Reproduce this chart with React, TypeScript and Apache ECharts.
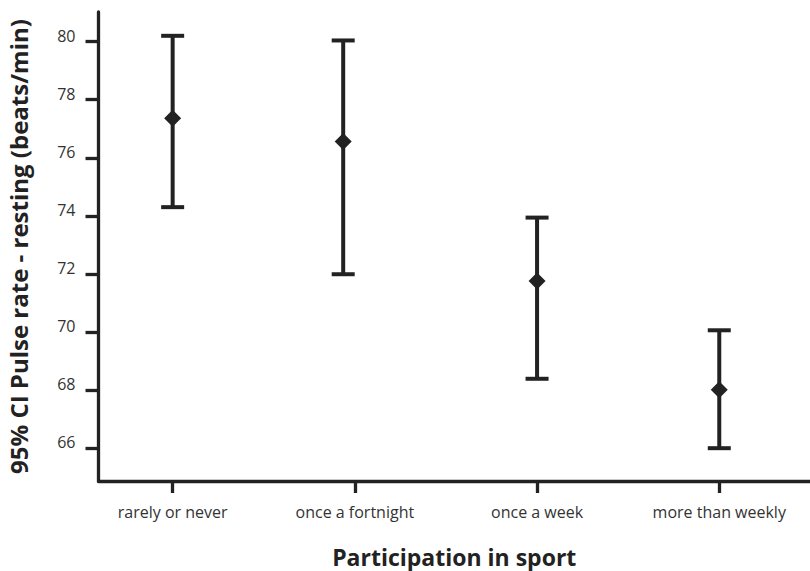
import React, { useEffect, useRef } from "react";
import * as echarts from "echarts";

const categories = ["rarely or never", "once a fortnight", "once a week", "more than weekly"];
const categoryTicks = [1, 2, 3, 4];
const pointPositions = [1, 1.936, 3, 4];
const means = [77.36, 76.56, 71.76, 68.01];
const lowerCI = [74.3, 71.99, 68.39, 66.0];
const upperCI = [80.2, 80.04, 73.94, 70.06];
const yTicks = [66, 68, 70, 72, 74, 76, 78, 80];

const xTitle = "Participation in sport";
const yTitle = "95% CI Pulse rate - resting (beats/min)";

const FONT = "'Open Sans', 'Noto Sans', sans-serif";
const INK = "#222222";

export default function App() {
  const ref = useRef<HTMLDivElement>(null);

  useEffect(() => {
    if (!ref.current) return;
    const chart = echarts.init(ref.current, undefined, { renderer: "svg" });

    const barData = pointPositions.map((x, i) => [x, lowerCI[i], upperCI[i]]);
    const meanData = pointPositions.map((x, i) => [x, means[i]]);

    chart.setOption({
      animation: false,
      backgroundColor: "#ffffff",
      grid: {
        left: 98.5,
        right: 0,
        top: 12,
        bottom: 90,
        containLabel: false,
        outerBoundsMode: "none",
      },
      xAxis: {
        type: "value",
        min: 0.593,
        max: 4.498,
        splitLine: { show: false },
        axisLine: { show: true, onZero: false, lineStyle: { color: INK, width: 3.3 } },
        axisTick: {
          show: true,
          customValues: categoryTicks,
          length: 12,
          lineStyle: { color: INK, width: 3.3 },
        },
        axisLabel: {
          customValues: categoryTicks,
          formatter: (v: number) => categories[Math.round(v) - 1] ?? "",
          margin: 23,
          fontSize: 16,
          fontFamily: FONT,
          color: "#333333",
        },
        name: xTitle,
        nameLocation: "middle",
        nameGap: 64,
        nameTextStyle: { fontSize: 23, fontWeight: "bold", fontFamily: FONT, color: INK },
      },
      yAxis: {
        type: "value",
        min: 64.87,
        max: 81.02,
        splitLine: { show: false },
        axisLine: { show: true, onZero: false, lineStyle: { color: INK, width: 3.3 } },
        axisTick: {
          show: true,
          customValues: yTicks,
          length: 13,
          lineStyle: { color: INK, width: 3.3 },
        },
        axisLabel: {
          customValues: yTicks,
          margin: 23,
          fontSize: 16,
          fontFamily: FONT,
          color: "#333333",
          verticalAlign: "bottom",
          lineHeight: 12,
        },
        name: yTitle,
        nameLocation: "middle",
        nameGap: 68,
        nameTextStyle: { fontSize: 24, fontWeight: "bold", fontFamily: FONT, color: INK },
      },
      series: [
        {
          type: "custom",
          data: barData,
          encode: { x: 0, y: [1, 2] },
          clip: false,
          renderItem: (params: any, api: any) => {
            const x = api.value(0);
            const lo = api.coord([x, api.value(1)]);
            const hi = api.coord([x, api.value(2)]);
            const half = 11.5;
            const style = { stroke: INK, lineWidth: 4 };
            return {
              type: "group",
              children: [
                { type: "line", shape: { x1: hi[0], y1: hi[1], x2: lo[0], y2: lo[1] }, style },
                { type: "line", shape: { x1: hi[0] - half, y1: hi[1], x2: hi[0] + half, y2: hi[1] }, style },
                { type: "line", shape: { x1: lo[0] - half, y1: lo[1], x2: lo[0] + half, y2: lo[1] }, style },
              ],
            };
          },
          z: 2,
        },
        {
          type: "scatter",
          data: meanData,
          symbol: "diamond",
          symbolSize: [17, 17],
          itemStyle: { color: INK, opacity: 1 },
          z: 3,
        },
      ],
    });

    return () => chart.dispose();
  }, []);

  return (
    <div
      ref={ref}
      style={{ position: "absolute", left: 0, top: 0, width: 810, height: 571, background: "#fff" }}
    />
  );
}
